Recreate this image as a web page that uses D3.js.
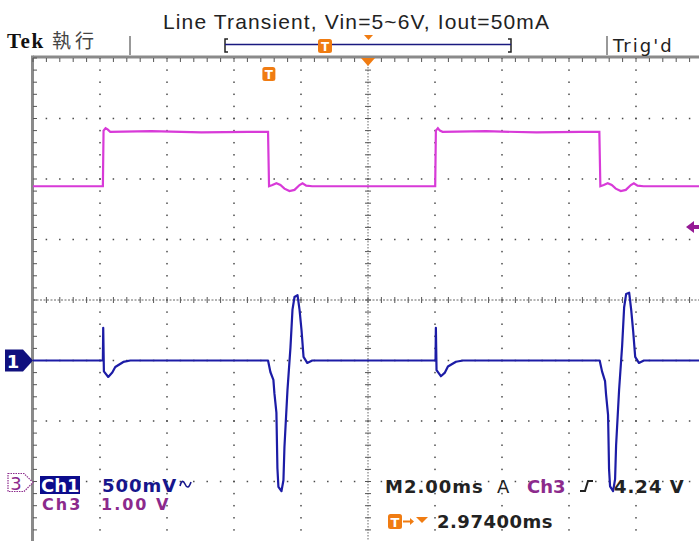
<!DOCTYPE html>
<html>
<head>
<meta charset="utf-8">
<script src="https://cdn.jsdelivr.net/npm/d3@7"></script>
<style>
html, body { margin: 0; padding: 0; background: #fff; overflow: hidden; }
svg { display: block; }
</style>
</head>
<body>
<svg id="scope" width="699" height="541"></svg>
<script>
// ---- values (time in ms relative to trigger) ----
const ch1Time = [-7.03, -4.94, -4.93, -4.91, -4.78, -4.66, -4.57, -4.33, -4.12,
    -0.01, 0.06, 0.15, 0.18, 0.24, 0.27, 0.30, 0.39, 0.45, 0.48, 0.57, 0.66, 0.72, 0.78, 0.87, 0.93, 0.99, 1.05, 1.16, 1.31,
    4.99, 5.00, 5.02, 5.15, 5.27, 5.36, 5.60, 5.81,
    9.89, 9.96, 10.05, 10.08, 10.14, 10.17, 10.20, 10.29, 10.35, 10.38, 10.47, 10.56, 10.62, 10.68, 10.77, 10.83, 10.89, 10.95, 11.06, 11.21,
    12.98];
const ch1Volt = [0, 0, 0.27, -0.09, -0.136, -0.10, -0.054, -0.012, 0,
    0, -0.095, -0.16, -0.27, -0.43, -0.89, -1.045, -1.08, -0.99, -0.715, -0.245, 0.11, 0.42, 0.525, 0.54, 0.42, 0.25, 0.03, -0.02, 0,
    0, 0.27, -0.08, -0.13, -0.10, -0.05, -0.01, 0,
    0, -0.09, -0.17, -0.28, -0.45, -0.90, -1.04, -1.08, -0.98, -0.70, -0.24, 0.12, 0.44, 0.55, 0.56, 0.42, 0.24, 0.03, -0.02, 0,
    0];

const ch3Time = [-7.03, -4.94, -4.92, -4.86, -4.80, -4.72, -3.5, -2.0, -0.6, -0.01,
    0.02, 0.12, 0.24, 0.36, 0.48, 0.63, 0.78, 0.93, 1.02, 1.13, 1.31,
    4.98, 5.00, 5.06, 5.12, 5.20, 6.5, 8.0, 9.3, 9.88,
    9.91, 10.01, 10.13, 10.25, 10.37, 10.52, 10.67, 10.82, 10.91, 11.02, 11.20, 12.98];
const ch3Volt = [4.88, 4.88, 5.80, 5.84, 5.82, 5.78, 5.79, 5.77, 5.78, 5.78,
    4.88, 4.90, 4.93, 4.90, 4.84, 4.80, 4.82, 4.90, 4.93, 4.89, 4.88,
    4.88, 5.80, 5.84, 5.80, 5.78, 5.79, 5.77, 5.78, 5.78,
    4.88, 4.90, 4.93, 4.90, 4.84, 4.80, 4.82, 4.90, 4.93, 4.89, 4.88, 4.88];

const title = 'Line Transient, Vin=5~6V, Iout=50mA';
const chLabels = ['Ch1', 'Ch3'];
const chScaleText = ['500mV', '1.00 V'];
const timebaseText = 'M2.00ms';
const trigText = ['A', 'Ch3', '4.24 V'];
const delayText = '2.97400ms';

const timePerDiv = 2.0;      // ms
const horizDelay = 2.974;    // ms
const ch1PerDiv = 0.5, ch1Pos = -1;
const ch3PerDiv = 1.0, ch3Pos = -3;
const trigLevel = 4.24;

// ---- layout ----
const gLeft = 33, gTop = 58, divW = 67, divH = 60.5;
const nx = 10, ny = 8;
const gRight = gLeft + nx * divW, gBottom = gTop + ny * divH;

const blue = '#1c1ca6', magenta = '#d83ad8', purple = '#8c2a8c', orange = '#f07c12';

const svg = d3.select('#scope');

const x = d3.scaleLinear()
    .domain([horizDelay - nx / 2 * timePerDiv, horizDelay + nx / 2 * timePerDiv])
    .range([gLeft, gRight]);
const y1 = d3.scaleLinear()
    .domain([(-ny / 2 - ch1Pos) * ch1PerDiv, (ny / 2 - ch1Pos) * ch1PerDiv])
    .range([gBottom, gTop]);
const y3 = d3.scaleLinear()
    .domain([(-ny / 2 - ch3Pos) * ch3PerDiv, (ny / 2 - ch3Pos) * ch3PerDiv])
    .range([gBottom, gTop]);

// graticule dots
const grid = svg.append('g');
const minorX = d3.range(0, nx * 5 + 1).map(i => gLeft + i * divW / 5);
const minorY = d3.range(0, ny * 5 + 1).map(i => gTop + i * divH / 5);
for (let i = 1; i < nx; i++) {
    const gx = gLeft + i * divW;
    if (i === nx / 2) continue;
    grid.selectAll(null).data(minorY).enter().append('rect')
        .attr('x', gx - 0.75).attr('y', d => d - 0.75)
        .attr('width', 1.5).attr('height', 1.5).attr('fill', '#4a4a4a');
}
for (let j = 1; j < ny; j++) {
    const gy = gTop + j * divH;
    if (j === ny / 2) continue;
    grid.selectAll(null).data(minorX).enter().append('rect')
        .attr('x', d => d - 0.75).attr('y', gy - 0.75)
        .attr('width', 1.5).attr('height', 1.5).attr('fill', '#4a4a4a');
}
// center cross
const cx = gLeft + nx / 2 * divW, cy = gTop + ny / 2 * divH;
grid.append('line').attr('x1', cx).attr('x2', cx).attr('y1', gTop).attr('y2', gBottom)
    .attr('stroke', '#666').attr('stroke-width', 1).attr('stroke-dasharray', '1.5,1.5');
grid.append('line').attr('x1', gLeft).attr('x2', gRight).attr('y1', cy).attr('y2', cy)
    .attr('stroke', '#666').attr('stroke-width', 1).attr('stroke-dasharray', '2,1.5');
grid.selectAll(null).data(minorX).enter().append('line')
    .attr('x1', d => d).attr('x2', d => d).attr('y1', cy - 3).attr('y2', cy + 3)
    .attr('stroke', '#555');
grid.selectAll(null).data(minorY).enter().append('line')
    .attr('x1', cx - 3).attr('x2', cx + 3).attr('y1', d => d).attr('y2', d => d)
    .attr('stroke', '#555');
// border with ticks
grid.append('rect').attr('x', gLeft).attr('y', gTop - 2.5).attr('width', gRight - gLeft).attr('height', 3)
    .attr('fill', '#8a8a8a');
grid.append('rect').attr('x', gLeft - 2).attr('y', gTop - 2.5).attr('width', 3).attr('height', 541 - gTop + 3)
    .attr('fill', '#8a8a8a');
grid.selectAll(null).data(minorX).enter().append('line')
    .attr('x1', d => d).attr('x2', d => d).attr('y1', gTop).attr('y2', gTop + 4)
    .attr('stroke', '#555');
grid.selectAll(null).data(minorY).enter().append('line')
    .attr('x1', gLeft).attr('x2', gLeft + 4).attr('y1', d => d).attr('y2', d => d)
    .attr('stroke', '#555');

// traces
svg.append('clipPath').attr('id', 'clip').append('rect')
    .attr('x', gLeft).attr('y', gTop).attr('width', gRight - gLeft).attr('height', gBottom - gTop);

const line1 = d3.line().x(d => x(d[0])).y(d => y1(d[1]));
const line3 = d3.line().x(d => x(d[0])).y(d => y3(d[1]));

svg.append('path')
    .datum(ch3Time.map((t, i) => [t, ch3Volt[i]]))
    .attr('clip-path', 'url(#clip)')
    .attr('d', line3).attr('fill', 'none')
    .attr('stroke', magenta).attr('stroke-width', 2.2);

svg.append('path')
    .datum(ch1Time.map((t, i) => [t, ch1Volt[i]]))
    .attr('clip-path', 'url(#clip)')
    .attr('d', line1).attr('fill', 'none')
    .attr('stroke', blue).attr('stroke-width', 2.2).attr('stroke-linejoin', 'round');

// markers inside the screen
function tIcon(g, px, py, w, h) {
    g.append('rect').attr('x', px).attr('y', py).attr('width', w).attr('height', h)
        .attr('rx', 2.5).attr('fill', orange);
    g.append('text').attr('x', px + w / 2).attr('y', py + h - 2.5)
        .attr('text-anchor', 'middle').attr('fill', '#fff')
        .style('font-family', 'DejaVu Sans').style('font-weight', 'bold')
        .style('font-size', (h - 2) + 'px').text('T');
}
const marks = svg.append('g');
tIcon(marks, x(0) - 6, 67, 13, 14);
marks.append('path')
    .attr('d', `M${x(horizDelay) - 7},58 L${x(horizDelay) + 7},58 L${x(horizDelay)},66 Z`)
    .attr('fill', orange);
// trigger level arrow
const ty = y3(trigLevel) + 2;
marks.append('path')
    .attr('d', `M686,${ty} L694,${ty - 6} L694,${ty - 2} L699,${ty - 2} L699,${ty + 2} L694,${ty + 2} L694,${ty + 6} Z`)
    .attr('fill', '#951a95');
// ch1 ground marker
const g1 = y1(0);
marks.append('path')
    .attr('d', `M5,${g1 - 11} L23,${g1 - 11} L33,${g1} L23,${g1 + 11} L5,${g1 + 11} Z`)
    .attr('fill', '#10107e');
marks.append('text').attr('x', 13).attr('y', g1 + 7).attr('text-anchor', 'middle')
    .attr('fill', '#fff').style('font-family', 'DejaVu Sans').style('font-weight', 'bold')
    .style('font-size', '18px').text('1');
// ch3 ground marker
const g3 = y3(0) + 1;
marks.append('path')
    .attr('d', `M8,${g3 - 9} L24,${g3 - 9} L33,${g3} L24,${g3 + 9} L8,${g3 + 9} Z`)
    .attr('fill', '#fff').attr('stroke', purple).attr('stroke-width', 1.2)
    .attr('stroke-dasharray', '1.5,1');
marks.append('text').attr('x', 16).attr('y', g3 + 7).attr('text-anchor', 'middle')
    .attr('fill', purple).style('font-family', 'DejaVu Sans')
    .style('font-size', '18px').text('3');

// header
const head = svg.append('g');
head.append('text').attr('x', 356).attr('y', 29).attr('text-anchor', 'middle')
    .attr('fill', '#222').style('font-family', 'Liberation Sans')
    .style('font-size', '21px').attr('textLength', 386).attr('lengthAdjust', 'spacing')
    .text(title);
head.append('text').attr('x', 7).attr('y', 48)
    .attr('fill', '#111').style('font-family', 'Liberation Serif').style('font-weight', 'bold')
    .style('font-size', '21px').style('letter-spacing', '1.5px').text('Tek');
head.append('text').attr('x', 52).attr('y', 48)
    .attr('fill', '#444').style('font-family', 'Noto Sans CJK TC')
    .style('font-size', '19px').style('letter-spacing', '4px').text('執行');
head.append('line').attr('x1', 130).attr('x2', 130).attr('y1', 36).attr('y2', 55)
    .attr('stroke', '#777').attr('stroke-width', 1.5);
head.append('line').attr('x1', 607).attr('x2', 607).attr('y1', 36).attr('y2', 55)
    .attr('stroke', '#777').attr('stroke-width', 1.5);
head.append('text').attr('x', 613).attr('y', 52)
    .attr('fill', '#222').style('font-family', 'DejaVu Sans')
    .style('font-size', '18px').style('letter-spacing', '2px').text("Trig'd");
// record bracket
head.append('path').attr('d', 'M228,39 L225,39 L225,52 L228,52')
    .attr('fill', 'none').attr('stroke', '#222').attr('stroke-width', 1.5);
head.append('path').attr('d', 'M508,39 L511,39 L511,52 L508,52')
    .attr('fill', 'none').attr('stroke', '#222').attr('stroke-width', 1.5);
head.append('line').attr('x1', 225).attr('x2', 511).attr('y1', 44.5).attr('y2', 44.5)
    .attr('stroke', '#1a1a80').attr('stroke-width', 1.5);
tIcon(head, 318, 39, 14, 14);
head.append('path').attr('d', 'M364,35 L373,35 L368.5,40 Z').attr('fill', orange);

// readouts
const rd = svg.append('g').style('font-family', 'DejaVu Sans').style('font-weight', 'bold');
rd.append('rect').attr('x', 40).attr('y', 476).attr('width', 40).attr('height', 18).attr('fill', '#0c0c8c');
rd.append('text').attr('x', 41).attr('y', 492).attr('fill', '#fff')
    .style('font-size', '18px').text(chLabels[0]);
rd.append('text').attr('x', 102).attr('y', 492).attr('fill', '#16168c')
    .style('font-size', '18px').style('letter-spacing', '1px').text(chScaleText[0]);
rd.append('path').attr('d', 'M180,486 Q182,478 185,484 Q188,491 191,482')
    .attr('fill', 'none').attr('stroke', '#16168c').attr('stroke-width', 1.6);
rd.append('text').attr('x', 42).attr('y', 510).attr('fill', purple)
    .style('font-size', '16px').style('letter-spacing', '2px').text(chLabels[1]);
rd.append('text').attr('x', 101).attr('y', 510).attr('fill', purple)
    .style('font-size', '16px').style('letter-spacing', '2px').text(chScaleText[1]);

rd.append('text').attr('x', 385).attr('y', 493).attr('fill', '#222')
    .style('font-size', '18px').style('letter-spacing', '1px').text(timebaseText);
rd.append('text').attr('x', 497).attr('y', 493).attr('fill', '#222')
    .style('font-size', '18px').style('font-weight', 'normal').text(trigText[0]);
rd.append('text').attr('x', 527).attr('y', 493).attr('fill', purple)
    .style('font-size', '18px').text(trigText[1]);
rd.append('path').attr('d', 'M580,491 L585,491 L588,481 L593,481')
    .attr('fill', 'none').attr('stroke', '#222').attr('stroke-width', 2);
rd.append('text').attr('x', 614).attr('y', 493).attr('fill', '#222')
    .style('font-size', '18px').style('letter-spacing', '1px').text(trigText[2]);

tIcon(rd, 388, 514, 14, 15);
rd.append('path').attr('d', 'M403,521.5 L412,521.5').attr('stroke', orange).attr('stroke-width', 2);
rd.append('path').attr('d', 'M410,518 L414,521.5 L410,525 Z').attr('fill', orange);
rd.append('path').attr('d', 'M416,517 L428,517 L422,523 Z').attr('fill', orange);
rd.append('text').attr('x', 437).attr('y', 528).attr('fill', '#222')
    .style('font-size', '18px').style('letter-spacing', '0.5px').text(delayText);
</script>
</body>
</html>
